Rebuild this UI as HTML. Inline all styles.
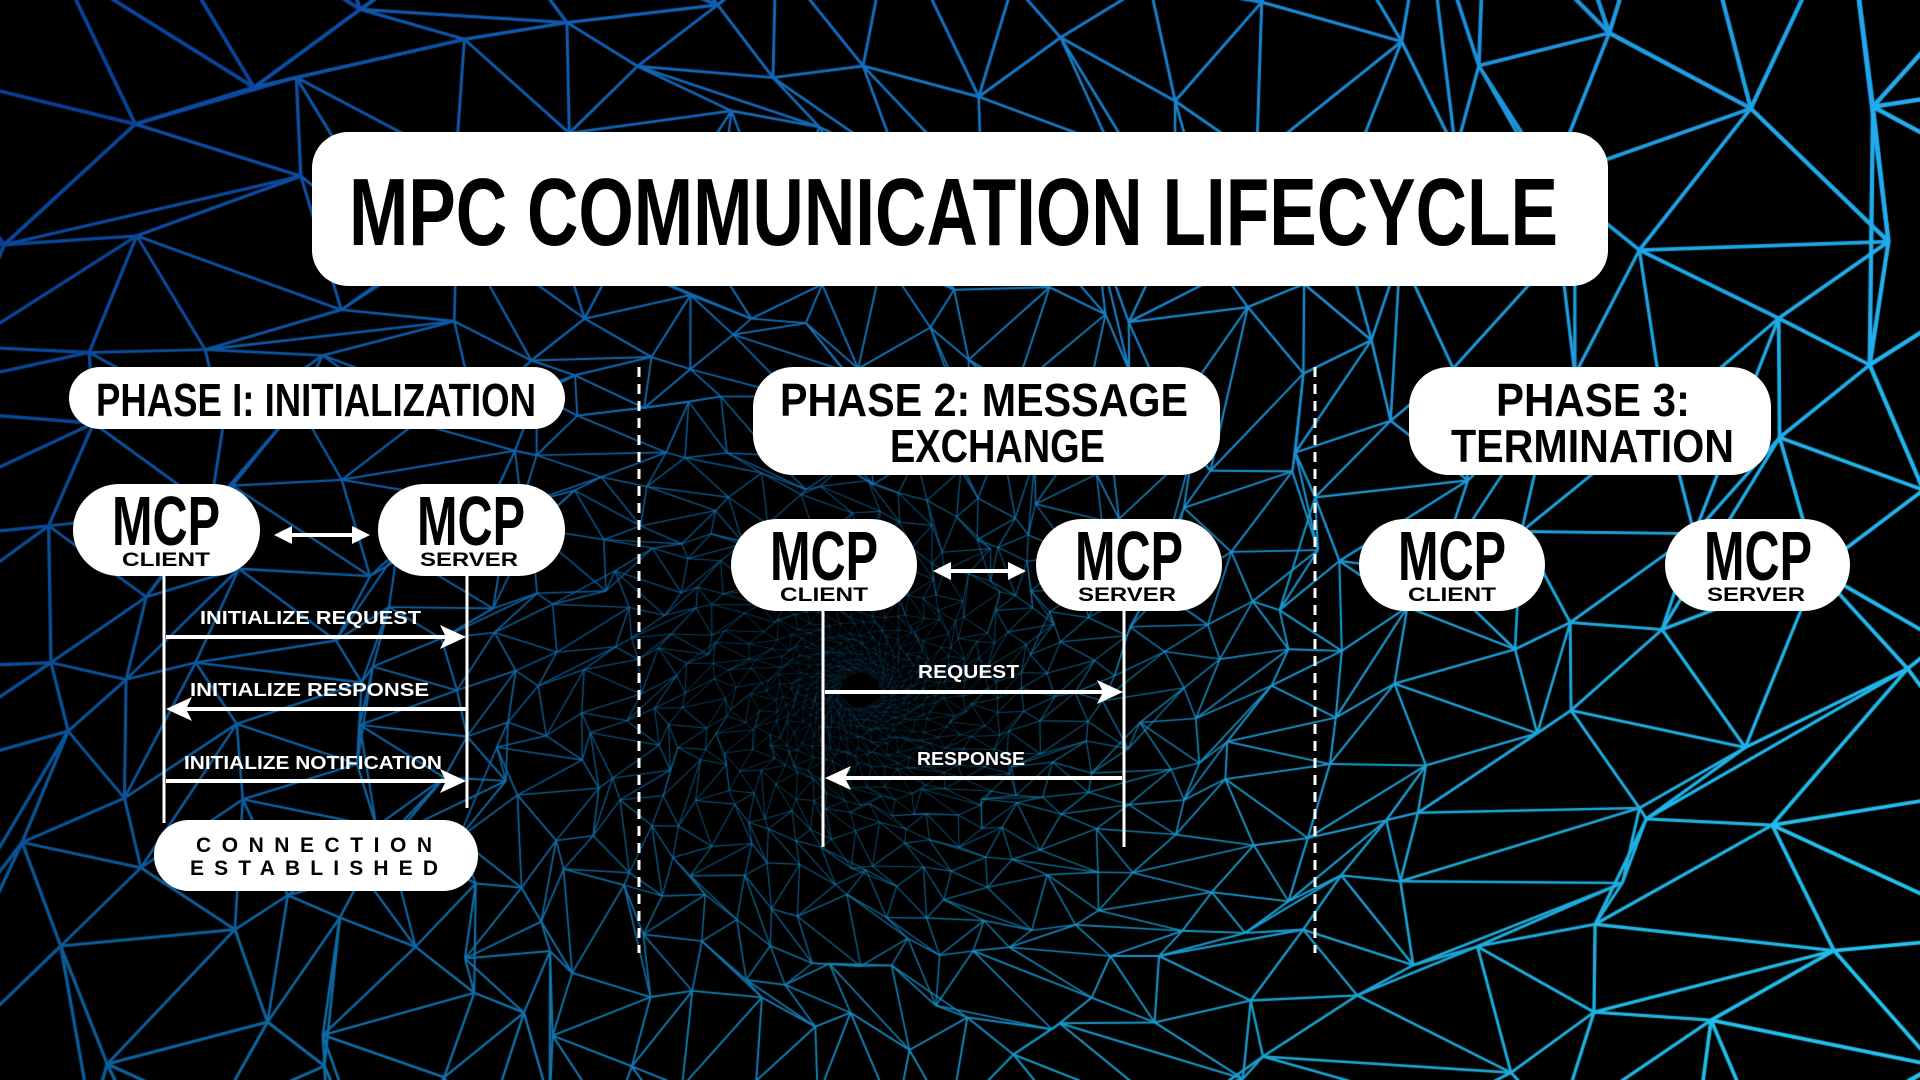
<!DOCTYPE html>
<html><head><meta charset="utf-8">
<style>
html,body{margin:0;padding:0;width:1920px;height:1080px;overflow:hidden;background:#000;}
#bg{position:absolute;left:0;top:0;}
#fg{position:absolute;left:0;top:0;}
text{font-family:"Liberation Sans",sans-serif;font-weight:bold;}
</style></head>
<body>
<canvas id="bg" width="1920" height="1080"></canvas>
<svg id="fg" width="1920" height="1080" viewBox="0 0 1920 1080">
<!-- title -->
<rect x="312" y="132" width="1296" height="154" rx="36" fill="#fff"/>
<text x="349" y="245" font-size="96" fill="#000" textLength="1209" lengthAdjust="spacingAndGlyphs">MPC COMMUNICATION LIFECYCLE</text>

<!-- dividers -->
<line x1="639" y1="367" x2="639" y2="953" stroke="#fff" stroke-width="3" stroke-dasharray="10,7"/>
<line x1="1315" y1="367" x2="1315" y2="953" stroke="#fff" stroke-width="3" stroke-dasharray="10,7"/>

<!-- phase pills -->
<rect x="69" y="367" width="496" height="62" rx="31" fill="#fff"/>
<text x="96" y="416" font-size="46" textLength="440" lengthAdjust="spacingAndGlyphs">PHASE I: INITIALIZATION</text>
<rect x="753" y="367" width="467" height="108" rx="40" fill="#fff"/>
<text x="780" y="416" font-size="46" textLength="408" lengthAdjust="spacingAndGlyphs">PHASE 2: MESSAGE</text>
<text x="890" y="462" font-size="46" textLength="215" lengthAdjust="spacingAndGlyphs">EXCHANGE</text>
<rect x="1409" y="367" width="362" height="108" rx="40" fill="#fff"/>
<text x="1496" y="416" font-size="46" textLength="194" lengthAdjust="spacingAndGlyphs">PHASE 3:</text>
<text x="1451" y="462" font-size="46" textLength="283" lengthAdjust="spacingAndGlyphs">TERMINATION</text>

<!-- phase 1 nodes -->
<g>
<rect x="73" y="484" width="187" height="92" rx="46" fill="#fff"/>
<text x="112" y="545" font-size="70" textLength="108" lengthAdjust="spacingAndGlyphs">MCP</text>
<text x="122" y="566" font-size="19" textLength="88" lengthAdjust="spacingAndGlyphs">CLIENT</text>
<rect x="378" y="484" width="187" height="92" rx="46" fill="#fff"/>
<text x="417" y="545" font-size="70" textLength="108" lengthAdjust="spacingAndGlyphs">MCP</text>
<text x="420" y="566" font-size="19" textLength="98" lengthAdjust="spacingAndGlyphs">SERVER</text>
</g>
<!-- phase1 double arrow -->
<line x1="285" y1="535" x2="360" y2="535" stroke="#fff" stroke-width="4"/>
<polygon points="274,535 292,526 292,544" fill="#fff"/>
<polygon points="370,535 352,526 352,544" fill="#fff"/>

<!-- phase1 lifelines -->
<line x1="164" y1="576" x2="164" y2="823" stroke="#fff" stroke-width="3"/>
<line x1="467" y1="576" x2="467" y2="808" stroke="#fff" stroke-width="3"/>
<line x1="166" y1="637" x2="450" y2="637" stroke="#fff" stroke-width="4"/>
<polygon points="466,637 440,625 446,637 440,649" fill="#fff"/>
<text x="200" y="624" font-size="18" fill="#fff" textLength="221" lengthAdjust="spacingAndGlyphs">INITIALIZE REQUEST</text>
<line x1="182" y1="709" x2="466" y2="709" stroke="#fff" stroke-width="4"/>
<polygon points="166,709 192,697 186,709 192,721" fill="#fff"/>
<text x="190" y="696" font-size="18" fill="#fff" textLength="239" lengthAdjust="spacingAndGlyphs">INITIALIZE RESPONSE</text>
<line x1="166" y1="781" x2="450" y2="781" stroke="#fff" stroke-width="4"/>
<polygon points="466,781 440,769 446,781 440,793" fill="#fff"/>
<text x="184" y="769" font-size="18" fill="#fff" textLength="258" lengthAdjust="spacingAndGlyphs">INITIALIZE NOTIFICATION</text>

<rect x="154" y="820" width="324" height="71" rx="35" fill="#fff"/>
<text x="196" y="852" font-size="21" textLength="236" lengthAdjust="spacing">CONNECTION</text>
<text x="190" y="875" font-size="21" textLength="248" lengthAdjust="spacing">ESTABLISHED</text>

<!-- phase 2 nodes -->
<rect x="731" y="519" width="186" height="92" rx="46" fill="#fff"/>
<text x="770" y="580" font-size="70" textLength="108" lengthAdjust="spacingAndGlyphs">MCP</text>
<text x="780" y="601" font-size="19" textLength="88" lengthAdjust="spacingAndGlyphs">CLIENT</text>
<rect x="1036" y="519" width="186" height="92" rx="46" fill="#fff"/>
<text x="1075" y="580" font-size="70" textLength="108" lengthAdjust="spacingAndGlyphs">MCP</text>
<text x="1078" y="601" font-size="19" textLength="98" lengthAdjust="spacingAndGlyphs">SERVER</text>
<line x1="944" y1="571" x2="1016" y2="571" stroke="#fff" stroke-width="4"/>
<polygon points="933,571 951,562 951,580" fill="#fff"/>
<polygon points="1026,571 1008,562 1008,580" fill="#fff"/>

<line x1="823" y1="611" x2="823" y2="847" stroke="#fff" stroke-width="3"/>
<line x1="1124" y1="611" x2="1124" y2="847" stroke="#fff" stroke-width="3"/>
<line x1="825" y1="692" x2="1106" y2="692" stroke="#fff" stroke-width="4"/>
<polygon points="1123,692 1097,680 1103,692 1097,704" fill="#fff"/>
<text x="918" y="678" font-size="18" fill="#fff" textLength="101" lengthAdjust="spacingAndGlyphs">REQUEST</text>
<line x1="842" y1="778" x2="1122" y2="778" stroke="#fff" stroke-width="4"/>
<polygon points="825,778 851,766 845,778 851,790" fill="#fff"/>
<text x="917" y="765" font-size="18" fill="#fff" textLength="108" lengthAdjust="spacingAndGlyphs">RESPONSE</text>

<!-- phase 3 nodes -->
<rect x="1359" y="519" width="186" height="92" rx="46" fill="#fff"/>
<text x="1398" y="580" font-size="70" textLength="108" lengthAdjust="spacingAndGlyphs">MCP</text>
<text x="1408" y="601" font-size="19" textLength="88" lengthAdjust="spacingAndGlyphs">CLIENT</text>
<rect x="1665" y="519" width="185" height="92" rx="46" fill="#fff"/>
<text x="1704" y="580" font-size="70" textLength="108" lengthAdjust="spacingAndGlyphs">MCP</text>
<text x="1707" y="601" font-size="19" textLength="98" lengthAdjust="spacingAndGlyphs">SERVER</text>
</svg>
<script>
(function(){
var c=document.getElementById('bg'),g=c.getContext('2d');
var seed=7;function rnd(){seed=(seed*16807)%2147483647;return seed/2147483647;}
var cx=860,cy=690,N=44,rings=[],r=18;
while(r<1900){var ring=[];var off=(rings.length%2)*0.5;
 for(var j=0;j<N;j++){var a=(j+off+ (rnd()-0.5)*0.5)/N*Math.PI*2;var rr=r*(1+(rnd()-0.5)*0.18);
  ring.push([cx+Math.cos(a)*rr*1.15,cy+Math.sin(a)*rr]);}
 rings.push({r:r,p:ring});r*=1.16;}
function col(x,y,rad){var t=Math.max(0,Math.min(1,x/1920));var u=Math.max(0,Math.min(1,y/1080));
 var R=10+25*t,G=60+110*t+30*u,B=150+90*t;var al=Math.min(1,0.25+rad/450);
 return 'rgba('+(R|0)+','+(G|0)+','+(B|0)+','+al+')';}
function seg(a,b,rad){var mx=(a[0]+b[0])/2,my=(a[1]+b[1])/2;g.strokeStyle=col(mx,my,rad);
 g.lineWidth=Math.min(4.5,0.5+rad/260);g.beginPath();g.moveTo(a[0],a[1]);g.lineTo(b[0],b[1]);g.stroke();}
for(var i=0;i<rings.length;i++){var p=rings[i].p,rad=rings[i].r;
 for(var j=0;j<N;j++){seg(p[j],p[(j+1)%N],rad);
  if(i+1<rings.length){var q=rings[i+1].p;seg(p[j],q[j],rad);seg(p[(j+1)%N],q[j],rad);}}}
})();
</script>
</body></html>
